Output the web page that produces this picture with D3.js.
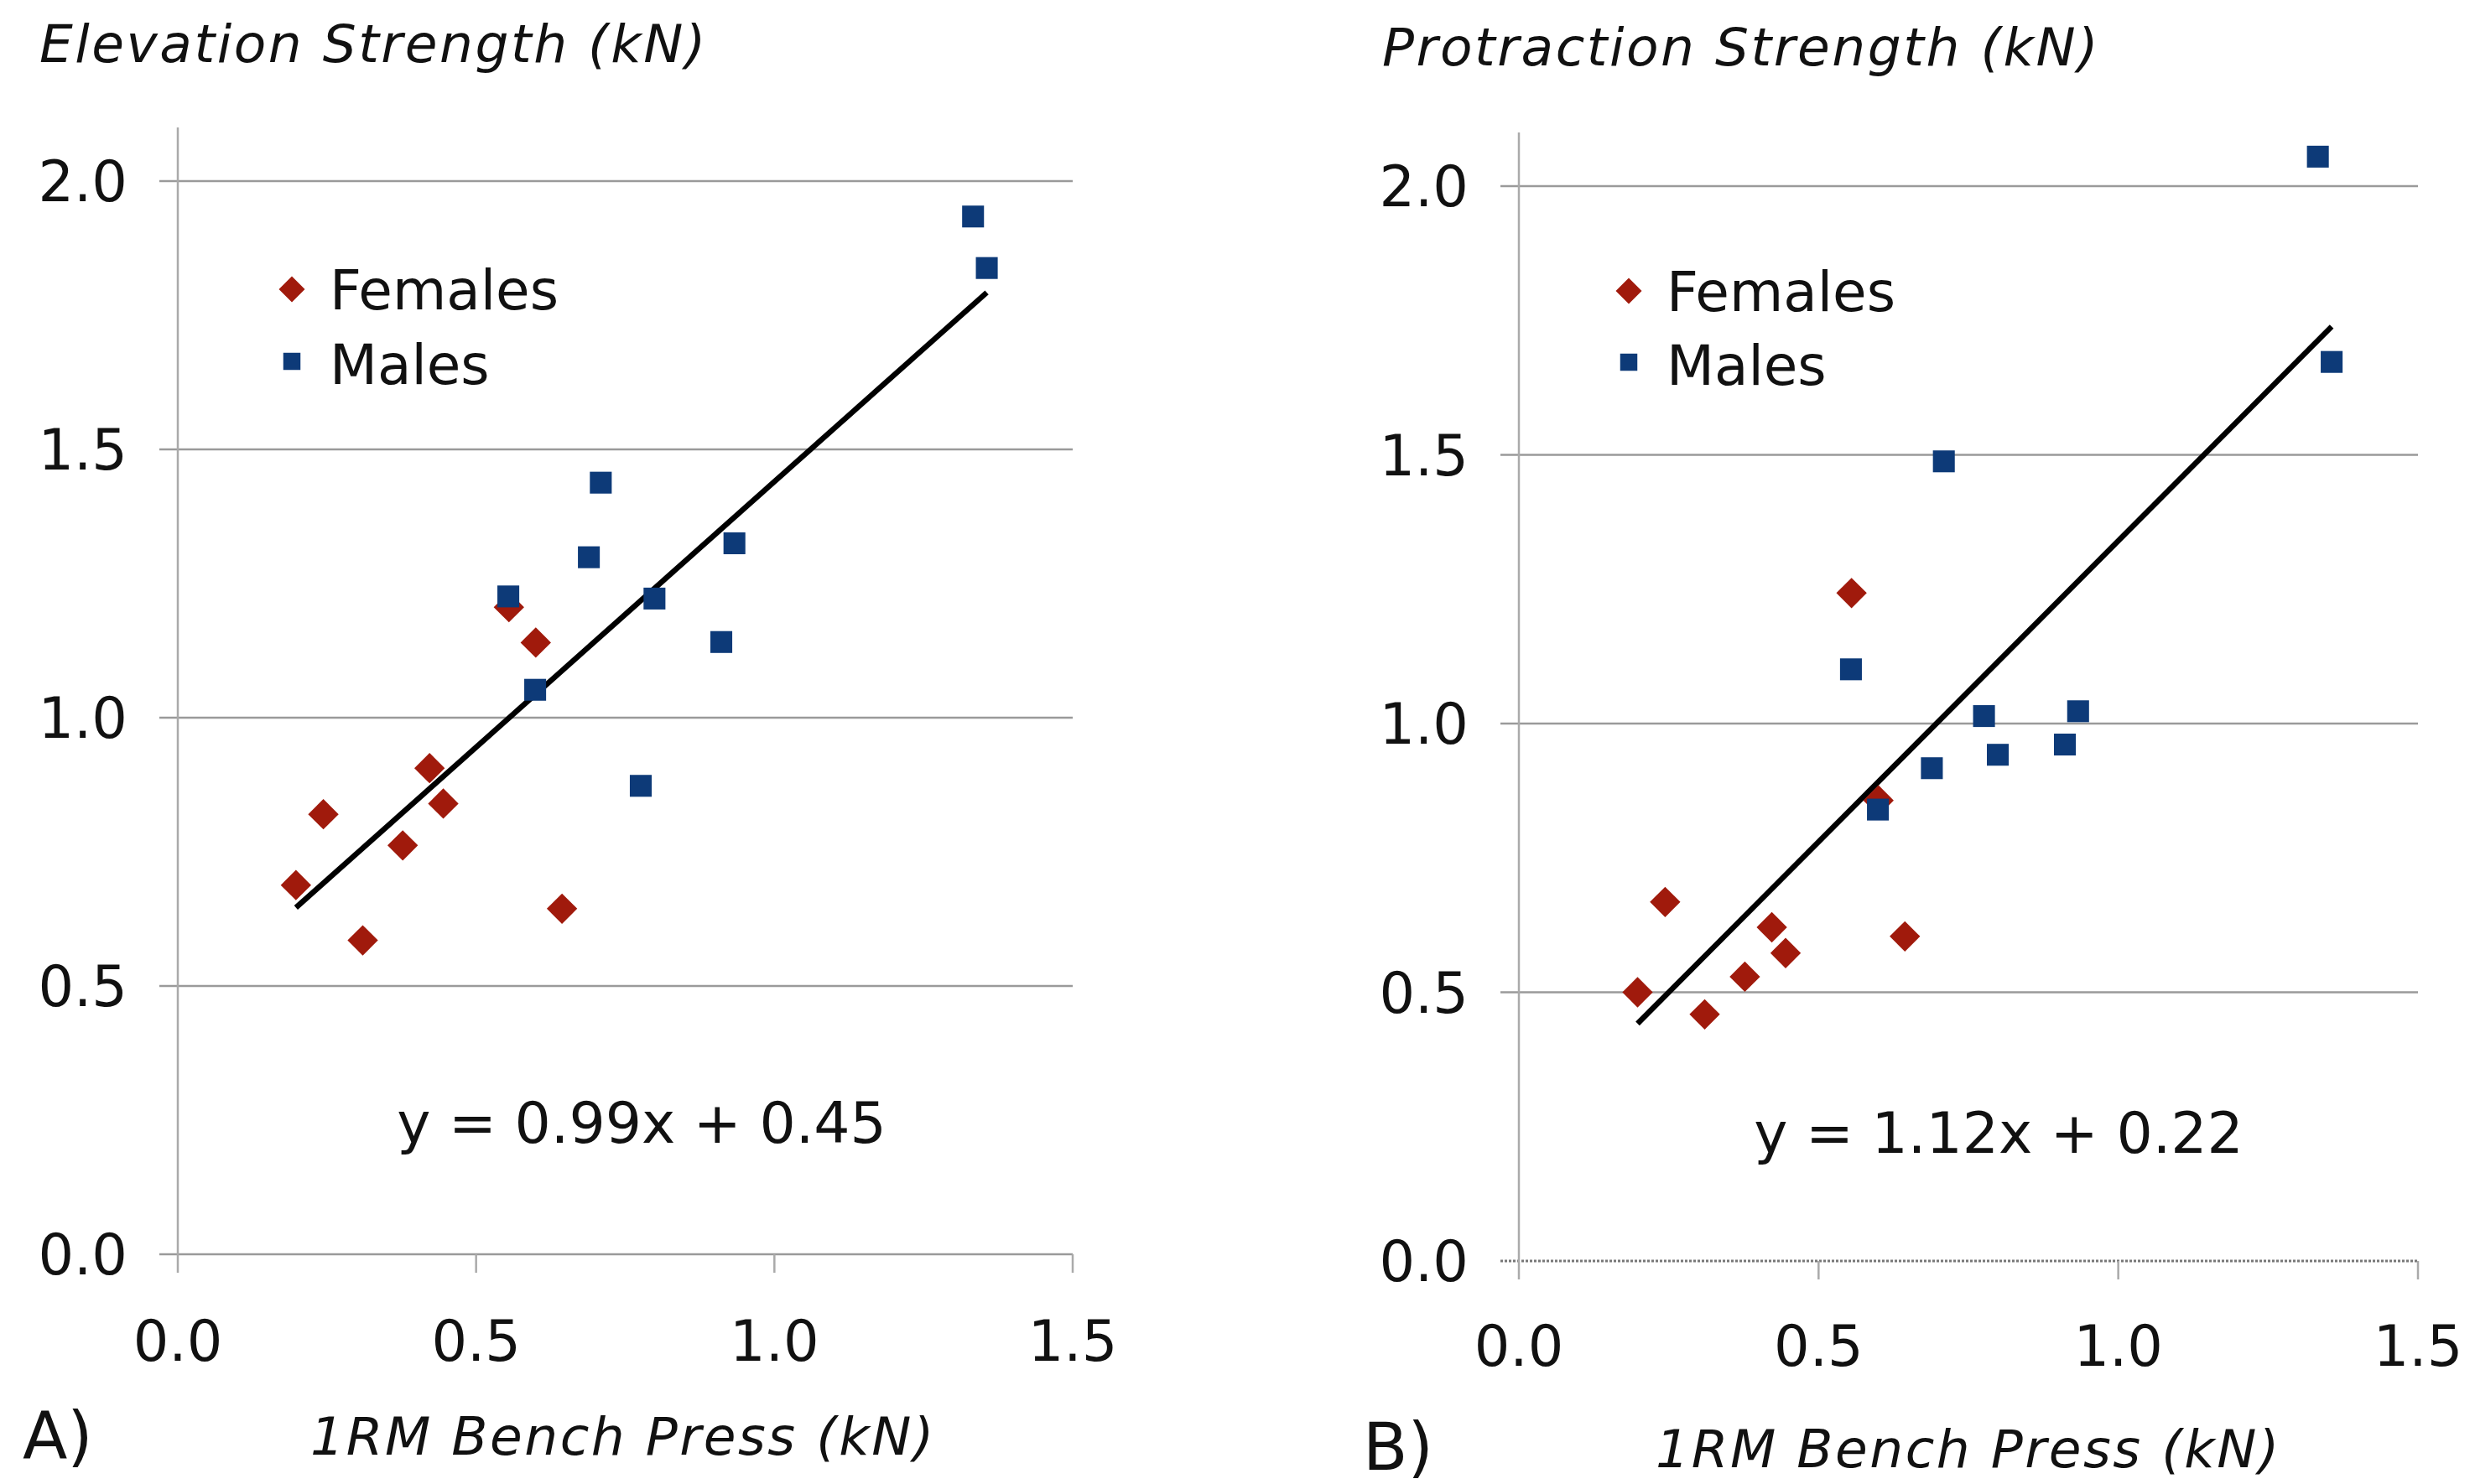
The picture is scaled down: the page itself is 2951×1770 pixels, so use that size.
<!DOCTYPE html>
<head>
    <meta charset="utf-8">
    <title>Bench press vs scapular strength</title>
    <style>
        body { margin: 0; background: #fff; }
        text { font-family: "DejaVu Sans", Verdana, sans-serif; fill: #111; }
        .it { font-style: italic; }
    </style>
</head>
<body>

<svg width="2951" height="1770"></svg>

<script src="https://d3js.org/d3.v7.min.js"></script>

<script>
    // 1RM bench press (kN), shared by both panels
    var femaleX = [0.198, 0.244, 0.310, 0.377, 0.422, 0.445, 0.555, 0.600, 0.644];
    var maleX   = [0.554, 0.599, 0.689, 0.709, 0.776, 0.799, 0.911, 0.933, 1.333, 1.356];

    // A) elevation strength (kN)
    var elevFemale = [0.688, 0.820, 0.585, 0.762, 0.906, 0.840, 1.206, 1.140, 0.644];
    var elevMale   = [1.226, 1.052, 1.299, 1.438, 0.873, 1.222, 1.141, 1.325, 1.934, 1.838];

    // B) protraction strength (kN)
    var protFemale = [0.500, 0.668, 0.459, 0.529, 0.621, 0.573, 1.243, 0.857, 0.604];
    var protMale   = [1.101, 0.840, 0.917, 1.488, 1.014, 0.942, 0.961, 1.023, 2.055, 1.673];

    // regression lines: [slope, intercept]
    var elevFit = [0.99, 0.45];
    var protFit = [1.12, 0.22];

    var xTicks = [0.0, 0.5, 1.0, 1.5];
    var yTicks = [0.0, 0.5, 1.0, 1.5, 2.0];

    var svg = d3.select("svg");
    var fmt = d3.format(".1f");

    var panels = [
        { letter: "A)", title: "Elevation Strength (kN)", female: elevFemale, male: elevMale, fit: elevFit,
          left: 212, right: 1279, bottom: 1496, top: 152, dotted: false,
          titleX: 47, titleY: 74, legX: 348, legY: [345, 431], eqX: 765, eqY: 1363,
          letterX: 27, letterY: 1740, labelX: 743, labelY: 1735, tickY: 1623 },
        { letter: "B)", title: "Protraction Strength (kN)", female: protFemale, male: protMale, fit: protFit,
          left: 1811, right: 2883, bottom: 1504, top: 158, dotted: true,
          titleX: 1648, titleY: 78, legX: 1942, legY: [347, 432], eqX: 2383, eqY: 1375,
          letterX: 1625, letterY: 1753, labelX: 2347, labelY: 1750, tickY: 1629 }
    ];

    var diamond = d3.symbol().type(d3.symbolSquare).size(660);
    var square = d3.symbol().type(d3.symbolSquare).size(680);

    panels.forEach(function(p) {
        var x = d3.scaleLinear().domain([0, 1.5]).range([p.left, p.right]);
        var y = d3.scaleLinear().domain([0, 2.1]).range([p.bottom, p.top]);
        var g = svg.append("g");

        // horizontal gridlines (with the little tick stub left of the axis)
        g.selectAll("line.grid")
            .data(yTicks.filter(function(d) { return d > 0 || !p.dotted; }))
            .enter().append("line")
                .attr("x1", p.left - 22)
                .attr("x2", p.right)
                .attr("y1", function(d) { return y(d); })
                .attr("y2", function(d) { return y(d); })
                .attr("stroke", "#9a9a9a")
                .attr("stroke-width", 2.5);

        if (p.dotted) {
            g.append("line")
                .attr("x1", p.left - 22).attr("x2", p.right)
                .attr("y1", y(0)).attr("y2", y(0))
                .attr("stroke", "#777")
                .attr("stroke-width", 3)
                .attr("stroke-dasharray", "3,2");
        }

        // vertical axis
        g.append("line")
            .attr("x1", p.left).attr("x2", p.left)
            .attr("y1", p.top).attr("y2", p.bottom + 22)
            .attr("stroke", "#aaa")
            .attr("stroke-width", 2.5);

        // x ticks
        g.selectAll("line.xt")
            .data(xTicks.slice(1))
            .enter().append("line")
                .attr("x1", function(d) { return x(d); })
                .attr("x2", function(d) { return x(d); })
                .attr("y1", p.bottom)
                .attr("y2", p.bottom + 22)
                .attr("stroke", "#aaa")
                .attr("stroke-width", 2.5);

        // tick labels
        g.selectAll("text.xl")
            .data(xTicks)
            .enter().append("text")
                .attr("x", function(d) { return x(d); })
                .attr("y", p.tickY)
                .attr("text-anchor", "middle")
                .attr("font-size", 67)
                .text(fmt);

        g.selectAll("text.yl")
            .data(yTicks)
            .enter().append("text")
                .attr("x", p.left - 60)
                .attr("y", function(d) { return y(d) + 24; })
                .attr("text-anchor", "end")
                .attr("font-size", 67)
                .text(fmt);

        // trend line over the data range
        var xr = d3.extent(femaleX.concat(maleX));
        g.append("line")
            .attr("x1", x(xr[0])).attr("y1", y(p.fit[0] * xr[0] + p.fit[1]))
            .attr("x2", x(xr[1])).attr("y2", y(p.fit[0] * xr[1] + p.fit[1]))
            .attr("stroke", "#000")
            .attr("stroke-width", 6.5);

        // markers: females first, males drawn on top
        g.selectAll("path.f")
            .data(femaleX.map(function(v, i) { return [v, p.female[i]]; }))
            .enter().append("path")
                .attr("d", diamond)
                .attr("transform", function(d) { return "translate(" + x(d[0]) + "," + y(d[1]) + ") rotate(45)"; })
                .attr("fill", "#a01a0c");

        g.selectAll("path.m")
            .data(maleX.map(function(v, i) { return [v, p.male[i]]; }))
            .enter().append("path")
                .attr("d", square)
                .attr("transform", function(d) { return "translate(" + x(d[0]) + "," + y(d[1]) + ")"; })
                .attr("fill", "#0d3a78");

        // legend
        g.append("path")
            .attr("d", d3.symbol().type(d3.symbolSquare).size(480))
            .attr("transform", "translate(" + p.legX + "," + p.legY[0] + ") rotate(45)")
            .attr("fill", "#a01a0c");
        g.append("path")
            .attr("d", d3.symbol().type(d3.symbolSquare).size(420))
            .attr("transform", "translate(" + p.legX + "," + p.legY[1] + ")")
            .attr("fill", "#0d3a78");
        g.append("text")
            .attr("x", p.legX + 45).attr("y", p.legY[0] + 24)
            .attr("font-size", 66)
            .text("Females");
        g.append("text")
            .attr("x", p.legX + 45).attr("y", p.legY[1] + 27)
            .attr("font-size", 66)
            .text("Males");

        // equation
        g.append("text")
            .attr("x", p.eqX).attr("y", p.eqY)
            .attr("text-anchor", "middle")
            .attr("font-size", 68)
            .text("y = " + p.fit[0].toFixed(2) + "x + " + p.fit[1].toFixed(2));

        // titles and labels
        g.append("text")
            .attr("class", "it")
            .attr("x", p.titleX).attr("y", p.titleY)
            .attr("font-size", 63)
            .attr("letter-spacing", 2.5)
            .text(p.title);

        g.append("text")
            .attr("class", "it")
            .attr("x", p.labelX).attr("y", p.labelY)
            .attr("text-anchor", "middle")
            .attr("font-size", 63)
            .attr("letter-spacing", 2.5)
            .text("1RM Bench Press (kN)");

        g.append("text")
            .attr("x", p.letterX).attr("y", p.letterY)
            .attr("font-size", 78)
            .text(p.letter);
    });
</script>

</body>
